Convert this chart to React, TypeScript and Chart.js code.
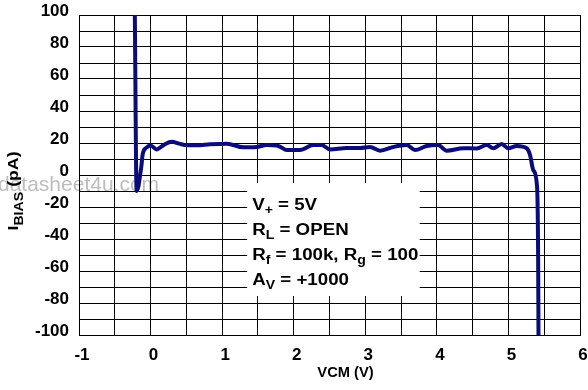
import React, { useEffect, useRef } from "react";
import { Chart, registerables } from "chart.js";

Chart.register(...registerables);

// ---- data ----
const vcm: number[] = [
  -0.22, -0.195, -0.13, -0.11, -0.06, 0.0, 0.085, 0.19, 0.295, 0.4, 0.505, 0.645,
  0.83, 1.064, 1.296, 1.483, 1.623, 1.762, 1.808, 1.902, 2.088, 2.274, 2.391, 2.507,
  2.74, 2.926, 3.066, 3.206, 3.391, 3.579, 3.695, 3.858, 4.016, 4.138, 4.37, 4.557,
  4.697, 4.789, 4.906, 4.998, 5.116, 5.255, 5.302, 5.348, 5.4, 5.415, 5.42,
];
const ibias: number[] = [
  100, -10, 5, 13, 17, 18.5, 16, 19, 20.8, 19.6, 18.6, 18.6,
  19.2, 19.6, 17.3, 17.5, 18.7, 18.4, 17.7, 15.6, 15.6, 18.7, 18.7, 16,
  16.9, 16.9, 17.5, 15.2, 17.5, 18.7, 15.6, 18.1, 18.7, 15.2, 16.7, 16.6,
  18.7, 16.7, 19.4, 16.7, 18.1, 16.7, 12.5, 3, -7.3, -50, -100,
];

const xTickLabels: number[] = [-1, 0, 1, 2, 3, 4, 5, 6];
const yTickLabels: number[] = [100, 80, 60, 40, 20, 0, -20, -40, -60, -80, -100];

// annotation box extent in data units
const boxX: number[] = [1.35, 3.76];
const boxY: number[] = [-5, -75.6];

type Seg = { t: string; sub?: boolean };
const annotationLines: Seg[][] = [
  [{ t: "V" }, { t: "+", sub: true }, { t: " = 5V" }],
  [{ t: "R" }, { t: "L", sub: true }, { t: " = OPEN" }],
  [{ t: "R" }, { t: "f", sub: true }, { t: " = 100k, R" }, { t: "g", sub: true }, { t: " = 100" }],
  [{ t: "A" }, { t: "V", sub: true }, { t: " = +1000" }],
];
const yTitle: Seg[] = [{ t: "I" }, { t: "BIAS", sub: true }, { t: " (pA)" }];
const xTitle = "VCM (V)";
const watermark = "datasheet4u.com";

const FONT = "'Liberation Sans', Arial, Helvetica, sans-serif";
const LINE_COLOR = "#0b0b7c";

function drawSegs(
  ctx: CanvasRenderingContext2D,
  segs: Seg[],
  x: number,
  y: number,
  size: number,
  subSize: number,
  subDrop: number,
  center: boolean
) {
  const fontMain = `bold ${size}px ${FONT}`;
  const fontSub = `bold ${subSize}px ${FONT}`;
  let total = 0;
  for (const s of segs) {
    ctx.font = s.sub ? fontSub : fontMain;
    total += ctx.measureText(s.t).width;
  }
  let cx = center ? x - total / 2 : x;
  ctx.textAlign = "left";
  ctx.textBaseline = "alphabetic";
  for (const s of segs) {
    ctx.font = s.sub ? fontSub : fontMain;
    ctx.fillText(s.t, cx, s.sub ? y + subDrop : y);
    cx += ctx.measureText(s.t).width;
  }
}

const decorPlugin = {
  id: "decor",
  beforeDraw(chart: any) {
    const { ctx, scales } = chart;
    ctx.save();
    ctx.font = `21px ${FONT}`;
    ctx.fillStyle = "#bdbdbd";
    ctx.textAlign = "left";
    ctx.textBaseline = "alphabetic";
    ctx.fillText(watermark, -2, scales.y.getPixelForValue(-10));
    ctx.restore();
  },
  beforeDatasetsDraw(chart: any) {
    const { ctx, scales } = chart;
    const xs = scales.x;
    const ys = scales.y;
    const l = xs.getPixelForValue(boxX[0]);
    const r = xs.getPixelForValue(boxX[1]);
    const t = ys.getPixelForValue(boxY[0]);
    const b = ys.getPixelForValue(boxY[1]);
    ctx.save();
    ctx.fillStyle = "#ffffff";
    ctx.fillRect(l, t, r - l, b - t);
    ctx.restore();
  },
  afterDatasetsDraw(chart: any) {
    const { ctx, scales, chartArea } = chart;
    const xs = scales.x;
    const ys = scales.y;
    const l = xs.getPixelForValue(boxX[0]);
    const t = ys.getPixelForValue(boxY[0]);
    ctx.save();
    ctx.fillStyle = "#000";
    annotationLines.forEach((segs, i) => {
      ctx.save();
      ctx.translate(l + 5, t + 27 + i * 25);
      ctx.scale(1.17, 1);
      drawSegs(ctx, segs, 0, 0, 16, 12, 4, false);
      ctx.restore();
    });
    // x title
    ctx.fillStyle = "#000";
    ctx.font = `bold 14px ${FONT}`;
    ctx.textAlign = "center";
    ctx.textBaseline = "alphabetic";
    ctx.save();
    ctx.translate((chartArea.left + chartArea.right) / 2 + 16, chartArea.bottom + 42);
    ctx.scale(1.05, 1);
    ctx.fillText(xTitle, 0, 0);
    ctx.restore();
    // y title
    ctx.save();
    ctx.translate(18, (chartArea.top + chartArea.bottom) / 2 + 16);
    ctx.rotate(-Math.PI / 2);
    ctx.scale(1.18, 1);
    drawSegs(ctx, yTitle, 0, 0, 15, 12, 5, true);
    ctx.restore();
    ctx.restore();
  },
};

export default function App() {
  const ref = useRef<HTMLCanvasElement | null>(null);
  useEffect(() => {
    if (!ref.current) return;
    const chart = new Chart(ref.current, {
      type: "line",
      data: {
        datasets: [
          {
            data: vcm.map((v, i) => ({ x: v, y: ibias[i] })),
            borderColor: LINE_COLOR,
            borderWidth: 4,
            pointRadius: 0,
            fill: false,
            cubicInterpolationMode: "monotone",
            borderJoinStyle: "round",
          },
        ],
      },
      options: {
        responsive: false,
        animation: false,
        devicePixelRatio: 1,
        layout: { padding: { top: 15, right: 8, left: 0, bottom: 0 } },
        plugins: { legend: { display: false }, tooltip: { enabled: false } },
        scales: {
          x: {
            type: "linear",
            min: -1,
            max: 6,
            afterFit: (s: any) => {
              s.height = 55;
              s.paddingRight = 0;
              s.paddingLeft = 0;
            },
            ticks: {
              stepSize: 0.5,
              padding: 10,
              labelOffset: 3,
              maxRotation: 0,
              autoSkip: false,
              color: "#000",
              font: { family: FONT, size: 17, weight: "bold" },
              callback: (v: any) => (xTickLabels.includes(Number(v)) ? String(v) : ""),
            },
            grid: { color: "#000", lineWidth: 1, drawTicks: false },
            border: { color: "#000", width: 1 },
          },
          y: {
            type: "linear",
            min: -100,
            max: 100,
            afterFit: (s: any) => {
              s.width = 79;
              s.paddingTop = 0;
              s.paddingBottom = 0;
            },
            ticks: {
              stepSize: 10,
              padding: 10,
              labelOffset: -4,
              autoSkip: false,
              color: "#000",
              font: { family: FONT, size: 17, weight: "bold" },
              callback: (v: any) => (yTickLabels.includes(Number(v)) ? String(v) : ""),
            },
            grid: { color: "#000", lineWidth: 1, drawTicks: false },
            border: { color: "#000", width: 1 },
          },
        },
      },
      plugins: [decorPlugin],
    });
    return () => chart.destroy();
  }, []);
  return (
    <div style={{ position: "absolute", left: 0, top: 0, width: 588, height: 390, background: "#fff" }}>
      <canvas ref={ref} width={588} height={390} style={{ display: "block" }} />
    </div>
  );
}
